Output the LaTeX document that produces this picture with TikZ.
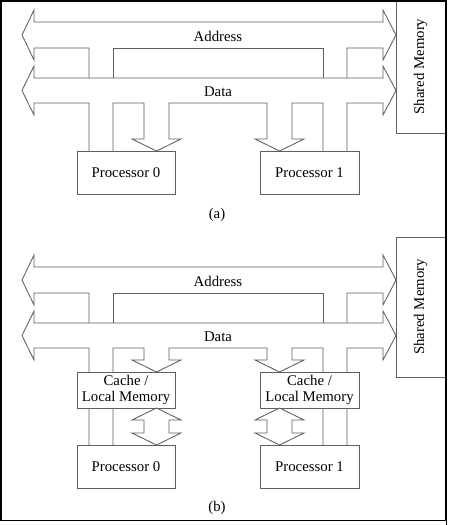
\documentclass[tikz,border=0pt]{standalone}
\usepackage{fontspec}
\setmainfont{Liberation Serif}
\definecolor{ln}{RGB}{95,95,95}
\newcommand{\drawbuses}[3]{%
  % Address bus
  \draw[wire] (89,78) -- (89,48) -- (34,48) -- (34,60) -- (22,35) -- (34,10) -- (34,22)
     -- (383,22) -- (383,10) -- (396,35) -- (383,60) -- (383,48) -- (347,48) -- (347,78);
  \draw[wire] (113,78) -- (113,48) -- (323,48) -- (323,78);
  % Data bus
  \draw[wire] (89,#3) -- (89,103) -- (34,103) -- (34,115) -- (22,90.5) -- (34,66) -- (34,78)
     -- (383,78) -- (383,66) -- (396,90.5) -- (383,115) -- (383,103) -- (347,103) -- (347,#3);
  \draw[wire] (113,#3) -- (113,103) -- (144,103) -- (144,#1) -- (132,#1) -- (156.5,#2)
     -- (181,#1) -- (169,#1) -- (169,103) -- (267,103) -- (267,#1) -- (255,#1) -- (279.5,#2)
     -- (304,#1) -- (292,#1) -- (292,103) -- (323,103) -- (323,#3);
  \node[lbl] (addr#1) at (218,36) {Address};
  \node[lbl] (data#1) at (218,92) {Data};
}
\begin{document}
\begin{tikzpicture}[x=1pt,y=-1pt,
  wire/.style={draw=ln, line width=0.85pt, line join=miter},
  box/.style={draw=ln, fill=white, line width=0.85pt, inner sep=0pt, align=center,
     font=\fontsize{14.8}{16}\selectfont},
  lbl/.style={inner sep=0pt, font=\fontsize{14.8}{16}\selectfont}]
\useasboundingbox (0,0) rectangle (448,525);
\fill[white] (0,0) rectangle (448,525);

% ---------- (a) ----------
\drawbuses{139}{151}{151}
\node[box, minimum width=98pt, minimum height=43pt] (p0a) at (126,172.5) {Processor 0};
\node[box, minimum width=99pt, minimum height=43pt] (p1a) at (309.5,172.5) {Processor 1};
\node[box, rotate=90, minimum width=133pt, minimum height=49pt] (sma) at (420.5,66.5) {Shared Memory};
\node[lbl] (capa) at (217,215) {(a)};

% ---------- (b) ----------
\begin{scope}[yshift=-245pt]
\drawbuses{115}{127}{200}
\end{scope}
\node[box, minimum width=98pt, minimum height=36pt] (c0) at (126,390) {Cache /\\Local Memory};
\node[box, minimum width=99pt, minimum height=36pt] (c1) at (309.5,390) {Cache /\\Local Memory};
\node[box, minimum width=98pt, minimum height=43pt] (p0b) at (126,466.5) {Processor 0};
\node[box, minimum width=99pt, minimum height=43pt] (p1b) at (309.5,466.5) {Processor 1};
\node[box, rotate=90, minimum width=140pt, minimum height=49pt] (smb) at (420.5,307) {Shared Memory};
\node[lbl] (capb) at (217,508) {(b)};

% double arrows cache <-> processor
\draw[wire] (156.5,408) -- (181,420) -- (169,420) -- (169,433) -- (181,433) -- (156.5,445)
   -- (132,433) -- (144,433) -- (144,420) -- (132,420) -- cycle;
\draw[wire] (279.5,408) -- (304,420) -- (292,420) -- (292,433) -- (304,433) -- (279.5,445)
   -- (255,433) -- (267,433) -- (267,420) -- (255,420) -- cycle;

% frame
\draw[black, line width=1.5pt] (0.75,0.75) rectangle (446,520.5);
\draw[black, line width=1.5pt] (446.5,0) -- (446.5,525);
\end{tikzpicture}
\end{document}
